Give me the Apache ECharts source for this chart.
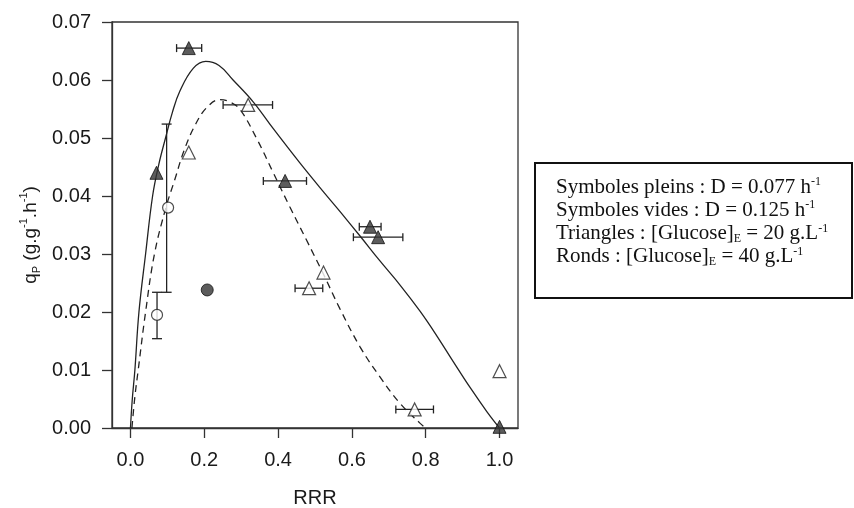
<!DOCTYPE html>
<html>
<head>
<meta charset="utf-8">
<script src="https://cdn.jsdelivr.net/npm/echarts@6/dist/echarts.min.js"></script>
<style>
    html, body { margin: 0; padding: 0; background: #fff; }
    #chart { width: 854px; height: 508px; }
</style>
</head>
<body>
<div id="chart"></div>
<script>
// tick labels
const xTicks = [0, 0.2, 0.4, 0.6, 0.8, 1.0]

// points [RRR, qP]
const pleinsTriangles = [[0.158, 0.0655], [0.0705, 0.0440], [0.419, 0.0426], [0.649, 0.0347], [0.671, 0.0329], [1.0, 0.0002]]
const videsTriangles = [[0.158, 0.0475], [0.319, 0.0557], [0.523, 0.0268], [0.484, 0.0241], [0.770, 0.0032], [1.0, 0.0098]]
const videsRonds = [[0.102, 0.0380], [0.072, 0.0195]]
const pleinsRonds = [[0.208, 0.0238]]

// error bars: horizontal [qP, low, high], vertical [RRR, low, high]
const barresX = [[0.0655, 0.125, 0.193], [0.0426, 0.360, 0.477], [0.0347, 0.620, 0.679], [0.0329, 0.604, 0.738],
    [0.0557, 0.251, 0.385], [0.0241, 0.446, 0.521], [0.0032, 0.719, 0.821]]
const barresY = [[0.098, 0.0234, 0.0524], [0.072, 0.0154, 0.0234]]

// model curves
const courbePleine = [[0, 0], [0.005, 0.005], [0.012, 0.010], [0.023, 0.020], [0.041, 0.030], [0.060, 0.040],
    [0.077, 0.0455], [0.095, 0.0500], [0.114, 0.0545], [0.134, 0.0581], [0.170, 0.0620], [0.204, 0.0632],
    [0.240, 0.0625], [0.278, 0.0600], [0.333, 0.0562], [0.387, 0.0516], [0.459, 0.0457], [0.514, 0.0414],
    [0.568, 0.0373], [0.622, 0.0331], [0.676, 0.0288], [0.731, 0.0246], [0.785, 0.0201], [0.830, 0.0159],
    [0.875, 0.0114], [0.921, 0.0069], [0.966, 0.0028], [1.0, 0]]
const courbePointillee = [[0.004, 0], [0.012, 0.0054], [0.021, 0.010], [0.041, 0.020], [0.065, 0.030],
    [0.096, 0.038], [0.120, 0.0428], [0.145, 0.0478], [0.175, 0.0522], [0.206, 0.0552], [0.242, 0.0566],
    [0.270, 0.0562], [0.297, 0.0549], [0.342, 0.0499], [0.387, 0.0440], [0.432, 0.0381], [0.477, 0.0324],
    [0.523, 0.0265], [0.568, 0.0205], [0.622, 0.0140], [0.676, 0.0088], [0.731, 0.0042], [0.785, 0.0008], [0.800, 0]]

const ink = '#222'

function barreX(params, api) {
    const y = api.value(0)
    const a = api.coord([api.value(1), y])
    const b = api.coord([api.value(2), y])
    const h = 4
    const st = { stroke: ink, lineWidth: 1.3 }
    return {
        type: 'group',
        children: [
            { type: 'line', shape: { x1: a[0], y1: a[1], x2: b[0], y2: b[1] }, style: st },
            { type: 'line', shape: { x1: a[0], y1: a[1] - h, x2: a[0], y2: a[1] + h }, style: st },
            { type: 'line', shape: { x1: b[0], y1: b[1] - h, x2: b[0], y2: b[1] + h }, style: st }
        ]
    }
}

function barreY(params, api) {
    const x = api.value(0)
    const a = api.coord([x, api.value(1)])
    const b = api.coord([x, api.value(2)])
    const w = 5
    const st = { stroke: ink, lineWidth: 1.3 }
    return {
        type: 'group',
        children: [
            { type: 'line', shape: { x1: a[0], y1: a[1], x2: b[0], y2: b[1] }, style: st },
            { type: 'line', shape: { x1: a[0] - w, y1: a[1], x2: a[0] + w, y2: a[1] }, style: st },
            { type: 'line', shape: { x1: b[0] - w, y1: b[1], x2: b[0] + w, y2: b[1] }, style: st }
        ]
    }
}

const chart = echarts.init(document.getElementById('chart'))

const sans = 'Liberation Sans, Arial'
const serif = 'Liberation Serif, Times New Roman'
const axisFont = { fontFamily: sans, fontSize: 20, color: '#1a1a1a' }

const option = {
    animation: false,
    backgroundColor: '#fff',
    grid: {
        left: 112,
        right: 336,
        top: 22,
        bottom: 80,
        outerBoundsMode: 'none',
        show: true,
        borderColor: '#333',
        borderWidth: 1.3
    },
    xAxis: {
        type: 'value',
        min: -0.05,
        max: 1.05,
        name: 'RRR',
        nameLocation: 'middle',
        nameGap: 60,
        nameTextStyle: axisFont,
        axisLine: { onZero: false, lineStyle: { color: '#333', width: 1.3 } },
        axisTick: { length: 10, customValues: xTicks, lineStyle: { color: '#333', width: 1.3 } },
        axisLabel: { ...axisFont, margin: 22, customValues: xTicks, formatter: v => v.toFixed(1) },
        splitLine: { show: false }
    },
    yAxis: {
        type: 'value',
        min: 0,
        max: 0.07,
        interval: 0.01,
        name: '{n|q}{sub|P}{n| (g.g}{sup|-1}{n|.h}{sup|-1}{n|)}',
        nameLocation: 'middle',
        nameGap: 68,
        nameTextStyle: {
            ...axisFont,
            padding: [0, 20, 0, 0],
            rich: {
                n: { fontFamily: sans, fontSize: 19, color: '#1a1a1a', lineHeight: 26 },
                sub: { fontFamily: sans, fontSize: 11, color: '#1a1a1a', verticalAlign: 'bottom', lineHeight: 26, padding: [0, 0, 2, 0] },
                sup: { fontFamily: sans, fontSize: 11, color: '#1a1a1a', verticalAlign: 'top', lineHeight: 26 }
            }
        },
        axisLine: { show: true, onZero: false, lineStyle: { color: '#333', width: 1.3 } },
        axisTick: { show: true, length: 10, lineStyle: { color: '#333', width: 1.3 } },
        axisLabel: { ...axisFont, margin: 21, formatter: v => v.toFixed(2) },
        splitLine: { show: false }
    },
    graphic: [
        {
            type: 'rect',
            shape: { x: 535, y: 163, width: 317, height: 135 },
            style: { fill: '#fff', stroke: '#111', lineWidth: 2 }
        },
        ...[
            '{t|Symboles pleins : D = 0.077 h}{sup|-1}',
            '{t|Symboles vides : D = 0.125 h}{sup|-1}',
            '{t|Triangles : [Glucose]}{sub|E}{t| = 20 g.L}{sup|-1}',
            '{t|Ronds : [Glucose]}{sub|E}{t| = 40 g.L}{sup|-1}'
        ].map((txt, i) => ({
            type: 'text',
            left: 556,
            top: 176 + i * 23.2,
            style: {
                text: txt,
                rich: {
                    t: { fontFamily: serif, fontSize: 21, fill: '#111', lineHeight: 22 },
                    sup: { fontFamily: serif, fontSize: 12, fill: '#111', verticalAlign: 'top', lineHeight: 22 },
                    sub: { fontFamily: serif, fontSize: 12, fill: '#111', verticalAlign: 'bottom', lineHeight: 22 }
                }
            }
        }))
    ],
    series: [
        {
            type: 'line',
            data: courbePleine,
            smooth: 0.4,
            showSymbol: false,
            lineStyle: { color: ink, width: 1.3 },
            z: 2
        },
        {
            type: 'line',
            data: courbePointillee,
            smooth: 0.4,
            showSymbol: false,
            lineStyle: { color: ink, width: 1.3, type: [7, 5] },
            z: 2
        },
        { type: 'custom', renderItem: barreX, data: barresX, z: 3 },
        { type: 'custom', renderItem: barreY, data: barresY, z: 3 },
        {
            type: 'scatter',
            data: pleinsTriangles,
            symbol: 'triangle',
            symbolSize: 13,
            itemStyle: { color: '#333', borderColor: '#111', borderWidth: 1 },
            z: 5
        },
        {
            type: 'scatter',
            data: videsTriangles,
            symbol: 'triangle',
            symbolSize: 13,
            itemStyle: { color: '#fff', borderColor: '#222', borderWidth: 1.2 },
            z: 5
        },
        {
            type: 'scatter',
            data: videsRonds,
            symbol: 'circle',
            symbolSize: 11,
            itemStyle: { color: '#fff', borderColor: '#222', borderWidth: 1.2 },
            z: 5
        },
        {
            type: 'scatter',
            data: pleinsRonds,
            symbol: 'circle',
            symbolSize: 12,
            itemStyle: { color: '#333', borderColor: '#111', borderWidth: 1 },
            z: 5
        }
    ]
}

chart.setOption(option)
</script>
</body>
</html>
